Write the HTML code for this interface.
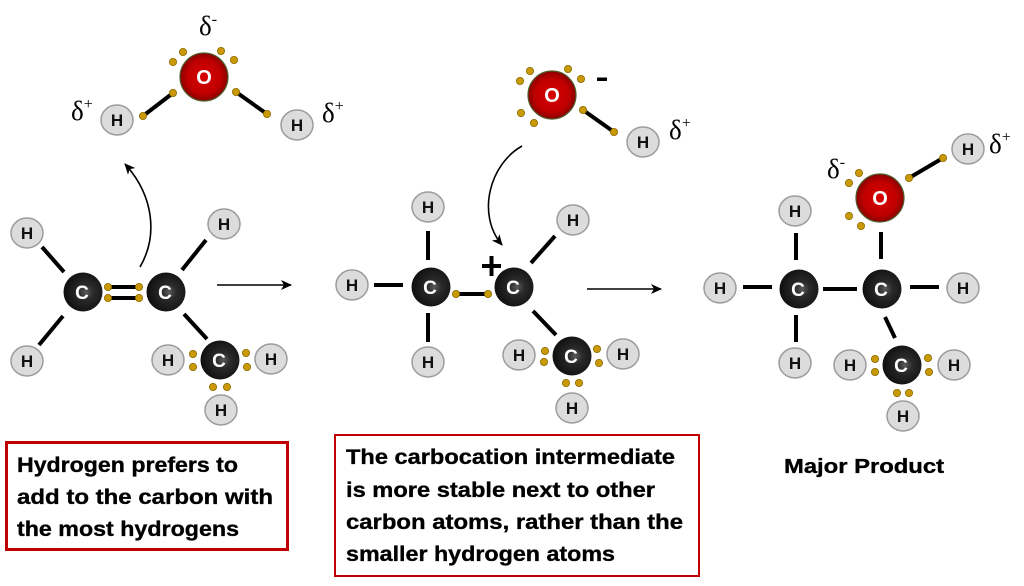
<!DOCTYPE html>
<html>
<head>
<meta charset="utf-8">
<style>
html,body{margin:0;padding:0;background:#fff;}
svg{display:block;}
.ht{font-family:"Liberation Sans",sans-serif;font-weight:bold;font-size:17px;fill:#111;text-anchor:middle;}
.ct{font-family:"Liberation Sans",sans-serif;font-weight:bold;font-size:19px;fill:#fff;text-anchor:middle;}
.d{font-family:"Liberation Serif",serif;font-size:27px;fill:#000;}
.bx{font-family:"Liberation Sans",sans-serif;font-weight:bold;font-size:21px;fill:#000;stroke:#000;stroke-width:0.35px;}
</style>
</head>
<body>
<svg width="1024" height="586" viewBox="0 0 1024 586" xmlns="http://www.w3.org/2000/svg">
<defs>
<radialGradient id="cg" cx="0.58" cy="0.5" r="0.55">
<stop offset="0" stop-color="#5a5a5a"/>
<stop offset="0.35" stop-color="#2a2a2a"/>
<stop offset="1" stop-color="#111"/>
</radialGradient>
<radialGradient id="og" cx="0.5" cy="0.5" r="0.5">
<stop offset="0" stop-color="#d60000"/>
<stop offset="0.7" stop-color="#c00000"/>
<stop offset="1" stop-color="#8a0000"/>
</radialGradient>
<marker id="ah" markerWidth="12" markerHeight="10" refX="10" refY="5" orient="auto" markerUnits="userSpaceOnUse">
<path d="M0,0 L11,5 L0,10 L3,5 Z" fill="#000"/>
</marker>
</defs>
<rect width="1024" height="586" fill="#fff"/>

<g stroke="#000" stroke-width="4" stroke-linecap="butt">
<line x1="173" y1="93" x2="143" y2="116"/>
<line x1="236" y1="92" x2="267" y2="114"/>
<line x1="108" y1="287" x2="139" y2="287"/>
<line x1="108" y1="298" x2="139" y2="298"/>
<line x1="42" y1="247" x2="64" y2="272"/>
<line x1="39" y1="345" x2="63" y2="316"/>
<line x1="206" y1="240" x2="182" y2="270"/>
<line x1="184" y1="314" x2="207" y2="339"/>
<line x1="583" y1="110" x2="614" y2="132"/>
<line x1="428" y1="231" x2="428" y2="260"/>
<line x1="374" y1="285" x2="403" y2="285"/>
<line x1="428" y1="313" x2="428" y2="342"/>
<line x1="456" y1="294" x2="488" y2="294"/>
<line x1="531" y1="263" x2="555" y2="236"/>
<line x1="533" y1="311" x2="556" y2="335"/>
<line x1="909" y1="178" x2="943" y2="158"/>
<line x1="881" y1="232" x2="881" y2="259"/>
<line x1="796" y1="233" x2="796" y2="260"/>
<line x1="743" y1="287" x2="772" y2="287"/>
<line x1="823" y1="289" x2="857" y2="289"/>
<line x1="910" y1="287" x2="939" y2="287"/>
<line x1="796" y1="315" x2="796" y2="342"/>
<line x1="885" y1="317" x2="895" y2="338"/>
</g>

<g stroke="#000" stroke-width="1.6" fill="none">
<line x1="217" y1="285" x2="291" y2="285" marker-end="url(#ah)"/>
<line x1="587" y1="289" x2="661" y2="289" marker-end="url(#ah)"/>
<path d="M140,267 C158,236 154,196 125,164" marker-end="url(#ah)"/>
<path d="M522,146 C490,164 476,214 502,245" marker-end="url(#ah)"/>
</g>

<g fill="#c99a06" stroke="#8a6a00" stroke-width="0.8">
<circle cx="183" cy="52" r="3.6"/><circle cx="173" cy="62" r="3.6"/>
<circle cx="221" cy="51" r="3.6"/><circle cx="234" cy="60" r="3.6"/>
<circle cx="173" cy="93" r="3.6"/><circle cx="143" cy="116" r="3.6"/>
<circle cx="236" cy="92" r="3.6"/><circle cx="267" cy="114" r="3.6"/>
<circle cx="108" cy="287" r="3.6"/><circle cx="108" cy="298" r="3.6"/>
<circle cx="139" cy="287" r="3.6"/><circle cx="139" cy="298" r="3.6"/>
<circle cx="193" cy="354" r="3.6"/><circle cx="193" cy="367" r="3.6"/>
<circle cx="246" cy="353" r="3.6"/><circle cx="247" cy="367" r="3.6"/>
<circle cx="213" cy="387" r="3.6"/><circle cx="227" cy="387" r="3.6"/>
<circle cx="530" cy="71" r="3.6"/><circle cx="520" cy="81" r="3.6"/>
<circle cx="568" cy="69" r="3.6"/><circle cx="581" cy="79" r="3.6"/>
<circle cx="521" cy="113" r="3.6"/><circle cx="534" cy="123" r="3.6"/>
<circle cx="583" cy="110" r="3.6"/><circle cx="614" cy="132" r="3.6"/>
<circle cx="456" cy="294" r="3.6"/><circle cx="488" cy="294" r="3.6"/>
<circle cx="545" cy="351" r="3.6"/><circle cx="544" cy="362" r="3.6"/>
<circle cx="597" cy="349" r="3.6"/><circle cx="599" cy="363" r="3.6"/>
<circle cx="566" cy="383" r="3.6"/><circle cx="579" cy="383" r="3.6"/>
<circle cx="859" cy="173" r="3.6"/><circle cx="849" cy="183" r="3.6"/>
<circle cx="849" cy="216" r="3.6"/><circle cx="861" cy="226" r="3.6"/>
<circle cx="909" cy="178" r="3.6"/><circle cx="943" cy="158" r="3.6"/>
<circle cx="875" cy="359" r="3.6"/><circle cx="875" cy="372" r="3.6"/>
<circle cx="928" cy="358" r="3.6"/><circle cx="929" cy="372" r="3.6"/>
<circle cx="897" cy="393" r="3.6"/><circle cx="909" cy="393" r="3.6"/>
</g>

<g stroke="#4e5e2c" stroke-width="1.2" fill="url(#og)">
<circle cx="204" cy="77" r="24"/>
<circle cx="552" cy="95" r="24"/>
<circle cx="880" cy="198" r="24"/>
</g>
<text x="204" y="84" class="ct" style="font-size:20px">O</text>
<text x="552" y="102" class="ct" style="font-size:20px">O</text>
<text x="880" y="205" class="ct" style="font-size:20px">O</text>

<g fill="url(#cg)">
<circle cx="83" cy="292" r="19.5"/><circle cx="166" cy="292" r="19.5"/>
<circle cx="220" cy="360" r="19.5"/>
<circle cx="431" cy="287" r="19.5"/><circle cx="514" cy="287" r="19.5"/>
<circle cx="572" cy="356" r="19.5"/>
<circle cx="799" cy="289" r="19.5"/><circle cx="882" cy="289" r="19.5"/>
<circle cx="902" cy="365" r="19.5"/>
</g>
<text class="ct" x="82" y="299">C</text><text class="ct" x="165" y="299">C</text>
<text class="ct" x="219" y="367">C</text>
<text class="ct" x="430" y="294">C</text><text class="ct" x="513" y="294">C</text>
<text class="ct" x="571" y="363">C</text>
<text class="ct" x="798" y="296">C</text><text class="ct" x="881" y="296">C</text>
<text class="ct" x="901" y="372">C</text>

<g fill="#dcdcdc" stroke="#9c9c9c" stroke-width="1.5">
<ellipse cx="117" cy="120" rx="16" ry="15"/>
<ellipse cx="297" cy="125" rx="16" ry="15"/>
<ellipse cx="27" cy="233" rx="16" ry="15"/>
<ellipse cx="27" cy="361" rx="16" ry="15"/>
<ellipse cx="224" cy="224" rx="16" ry="15"/>
<ellipse cx="168" cy="360" rx="16" ry="15"/>
<ellipse cx="271" cy="359" rx="16" ry="15"/>
<ellipse cx="221" cy="410" rx="16" ry="15"/>
<ellipse cx="643" cy="142" rx="16" ry="15"/>
<ellipse cx="428" cy="207" rx="16" ry="15"/>
<ellipse cx="352" cy="285" rx="16" ry="15"/>
<ellipse cx="428" cy="362" rx="16" ry="15"/>
<ellipse cx="573" cy="220" rx="16" ry="15"/>
<ellipse cx="519" cy="355" rx="16" ry="15"/>
<ellipse cx="623" cy="354" rx="16" ry="15"/>
<ellipse cx="572" cy="408" rx="16" ry="15"/>
<ellipse cx="968" cy="149" rx="16" ry="15"/>
<ellipse cx="795" cy="211" rx="16" ry="15"/>
<ellipse cx="720" cy="288" rx="16" ry="15"/>
<ellipse cx="795" cy="363" rx="16" ry="15"/>
<ellipse cx="963" cy="288" rx="16" ry="15"/>
<ellipse cx="850" cy="365" rx="16" ry="15"/>
<ellipse cx="954" cy="365" rx="16" ry="15"/>
<ellipse cx="903" cy="416" rx="16" ry="15"/>
</g>
<text class="ht" x="117" y="126">H</text>
<text class="ht" x="297" y="131">H</text>
<text class="ht" x="27" y="239">H</text>
<text class="ht" x="27" y="367">H</text>
<text class="ht" x="224" y="230">H</text>
<text class="ht" x="168" y="366">H</text>
<text class="ht" x="271" y="365">H</text>
<text class="ht" x="221" y="416">H</text>
<text class="ht" x="643" y="148">H</text>
<text class="ht" x="428" y="213">H</text>
<text class="ht" x="352" y="291">H</text>
<text class="ht" x="428" y="368">H</text>
<text class="ht" x="573" y="226">H</text>
<text class="ht" x="519" y="361">H</text>
<text class="ht" x="623" y="360">H</text>
<text class="ht" x="572" y="414">H</text>
<text class="ht" x="968" y="155">H</text>
<text class="ht" x="795" y="217">H</text>
<text class="ht" x="720" y="294">H</text>
<text class="ht" x="795" y="369">H</text>
<text class="ht" x="963" y="294">H</text>
<text class="ht" x="850" y="371">H</text>
<text class="ht" x="954" y="371">H</text>
<text class="ht" x="903" y="422">H</text>

<text class="d" x="71" y="120">δ<tspan font-size="16" dy="-11">+</tspan></text>
<text class="d" x="199" y="35">δ<tspan font-size="16" dy="-11">-</tspan></text>
<text class="d" x="322" y="122">δ<tspan font-size="16" dy="-11">+</tspan></text>
<text class="d" x="669" y="139">δ<tspan font-size="16" dy="-11">+</tspan></text>
<text class="d" x="989" y="153">δ<tspan font-size="16" dy="-11">+</tspan></text>
<text class="d" x="827" y="178">δ<tspan font-size="16" dy="-11">-</tspan></text>
<rect x="597" y="77.5" width="10" height="3.5" fill="#000"/>
<rect x="482" y="264" width="19" height="4" fill="#000"/>
<rect x="489.5" y="256" width="4" height="20" fill="#000"/>

<rect x="6.5" y="442.5" width="281" height="107" fill="none" stroke="#c00000" stroke-width="3"/>
<text class="bx" x="17" y="472" textLength="221" lengthAdjust="spacingAndGlyphs">Hydrogen prefers to</text>
<text class="bx" x="17" y="504" textLength="256" lengthAdjust="spacingAndGlyphs">add to the carbon with</text>
<text class="bx" x="17" y="536" textLength="222" lengthAdjust="spacingAndGlyphs">the most hydrogens</text>

<rect x="335" y="435" width="364" height="141" fill="none" stroke="#c00000" stroke-width="2"/>
<text class="bx" x="346" y="464" textLength="329" lengthAdjust="spacingAndGlyphs">The carbocation intermediate</text>
<text class="bx" x="346" y="497" textLength="309" lengthAdjust="spacingAndGlyphs">is more stable next to other</text>
<text class="bx" x="346" y="529" textLength="337" lengthAdjust="spacingAndGlyphs">carbon atoms, rather than the</text>
<text class="bx" x="346" y="561" textLength="269" lengthAdjust="spacingAndGlyphs">smaller hydrogen atoms</text>

<text class="bx" x="784" y="473" style="font-size:20px" textLength="160" lengthAdjust="spacingAndGlyphs">Major Product</text>
</svg>
</body>
</html>
